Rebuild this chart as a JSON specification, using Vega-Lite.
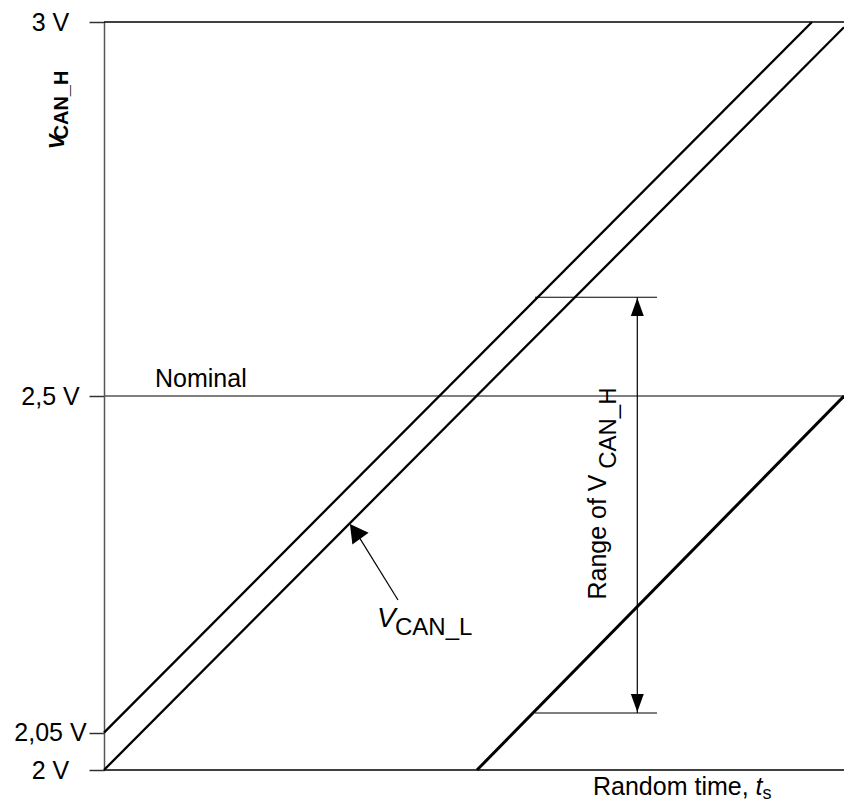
{
  "$schema": "https://vega.github.io/schema/vega-lite/v6.json",
  "width": 740,
  "height": 748,
  "autosize": {"type": "none"},
  "padding": {"left": 104, "top": 22, "right": 0, "bottom": 33},
  "config": {"view": {"stroke": null}, "font": "Liberation Sans"},
  "layer": [
    {
      "data": {"values": [
        {"x": 0, "y": 2.5, "x2": 740, "y2": 2.5}
      ]},
      "mark": {"type": "rule", "color": "#555", "strokeWidth": 1.5},
      "encoding": {
        "x": {"field": "x", "type": "quantitative", "scale": {"domain": [0, 740], "nice": false, "zero": false}, "axis": null},
        "y": {"field": "y", "type": "quantitative", "scale": {"domain": [2, 3], "nice": false, "zero": false},
              "axis": {"title": null, "values": [2, 2.05, 2.5, 3], "grid": false, "domainColor": "#555", "domainWidth": 1.5,
                       "tickColor": "#333", "tickSize": 15, "tickWidth": 1.5, "labelFontSize": 25, "labelColor": "#000",
                       "labelAlign": "center", "labelPadding": 39, "labelFont": "Liberation Sans",
                       "labelExpr": "replace(format(datum.value, '.2~f'), '.', ',') + ' V'"}},
        "x2": {"field": "x2"},
        "y2": {"field": "y2"}
      }
    },
    {
      "data": {"values": [
        {"x": 0, "y": 3, "x2": 740, "y2": 3},
        {"x": 0, "y": 2, "x2": 740, "y2": 2}
      ]},
      "mark": {"type": "rule", "color": "#000", "strokeWidth": 1.5},
      "encoding": {
        "x": {"field": "x", "type": "quantitative"},
        "y": {"field": "y", "type": "quantitative"},
        "x2": {"field": "x2"},
        "y2": {"field": "y2"}
      }
    },
    {
      "data": {"values": [
        {"x": 0, "y": 2.05, "x2": 708, "y2": 3.0},
        {"x": 0, "y": 2.0, "x2": 740, "y2": 2.993}
      ]},
      "mark": {"type": "rule", "color": "#000", "strokeWidth": 2.3},
      "encoding": {
        "x": {"field": "x", "type": "quantitative"},
        "y": {"field": "y", "type": "quantitative"},
        "x2": {"field": "x2"},
        "y2": {"field": "y2"}
      }
    },
    {
      "data": {"values": [
        {"x": 373, "y": 2.0, "x2": 740, "y2": 2.5}
      ]},
      "mark": {"type": "rule", "color": "#000", "strokeWidth": 3},
      "encoding": {
        "x": {"field": "x", "type": "quantitative"},
        "y": {"field": "y", "type": "quantitative"},
        "x2": {"field": "x2"},
        "y2": {"field": "y2"}
      }
    },
    {
      "data": {"values": [
        {"x": 431, "y": 2.632, "x2": 553, "y2": 2.632},
        {"x": 431, "y": 2.0762, "x2": 553, "y2": 2.0762},
        {"x": 533.3, "y": 2.632, "x2": 533.3, "y2": 2.0762},
        {"x": 294, "y": 2.2273, "x2": 252, "y2": 2.318}
      ]},
      "mark": {"type": "rule", "color": "#000", "strokeWidth": 1.2},
      "encoding": {
        "x": {"field": "x", "type": "quantitative"},
        "y": {"field": "y", "type": "quantitative"},
        "x2": {"field": "x2"},
        "y2": {"field": "y2"}
      }
    },
    {
      "data": {"values": [
        {"x": 533.3, "y": 2.619, "angle": 0},
        {"x": 533.3, "y": 2.0896, "angle": 180}
      ]},
      "mark": {"type": "point", "shape": "M0,-1L0.72,1L-0.72,1Z", "size": 324, "filled": true, "color": "#000", "opacity": 1},
      "encoding": {
        "x": {"field": "x", "type": "quantitative"},
        "y": {"field": "y", "type": "quantitative"},
        "angle": {"field": "angle", "type": "quantitative", "scale": null}
      }
    },
    {
      "data": {"values": [
        {"x": 251.2, "y": 2.319, "angle": -36}
      ]},
      "mark": {"type": "point", "shape": "M0,-0.9L1,0.9L-1,0.9Z", "size": 400, "filled": true, "color": "#000", "opacity": 1},
      "encoding": {
        "x": {"field": "x", "type": "quantitative"},
        "y": {"field": "y", "type": "quantitative"},
        "angle": {"field": "angle", "type": "quantitative", "scale": null}
      }
    },
    {
      "data": {"values": [
        {"x": 51, "y": 2.512, "label": "Nominal"},
        {"x": 489, "y": 1.9666, "label": "Random time, "}
      ]},
      "mark": {"type": "text", "align": "left", "baseline": "alphabetic", "fontSize": 25, "color": "#000"},
      "encoding": {
        "x": {"field": "x", "type": "quantitative"},
        "y": {"field": "y", "type": "quantitative"},
        "text": {"field": "label"}
      }
    },
    {
      "data": {"values": [
        {"x": 651.5, "y": 1.9666, "label": "t"}
      ]},
      "mark": {"type": "text", "align": "left", "baseline": "alphabetic", "fontSize": 25, "fontStyle": "italic", "color": "#000"},
      "encoding": {
        "x": {"field": "x", "type": "quantitative"},
        "y": {"field": "y", "type": "quantitative"},
        "text": {"field": "label"}
      }
    },
    {
      "data": {"values": [
        {"x": 658.5, "y": 1.9613, "label": "s"}
      ]},
      "mark": {"type": "text", "align": "left", "baseline": "alphabetic", "fontSize": 18, "color": "#000"},
      "encoding": {
        "x": {"field": "x", "type": "quantitative"},
        "y": {"field": "y", "type": "quantitative"},
        "text": {"field": "label"}
      }
    },
    {
      "data": {"values": [
        {"x": 273, "y": 2.1912, "label": "V"}
      ]},
      "mark": {"type": "text", "align": "left", "baseline": "alphabetic", "fontSize": 28, "fontStyle": "italic", "color": "#000"},
      "encoding": {
        "x": {"field": "x", "type": "quantitative"},
        "y": {"field": "y", "type": "quantitative"},
        "text": {"field": "label"}
      }
    },
    {
      "data": {"values": [
        {"x": 291, "y": 2.1805, "label": "CAN_L"}
      ]},
      "mark": {"type": "text", "align": "left", "baseline": "alphabetic", "fontSize": 24, "color": "#000"},
      "encoding": {
        "x": {"field": "x", "type": "quantitative"},
        "y": {"field": "y", "type": "quantitative"},
        "text": {"field": "label"}
      }
    },
    {
      "data": {"values": [
        {"x": 494, "y": 2.3115, "label": "Range of V"}
      ]},
      "mark": {"type": "text", "align": "center", "baseline": "middle", "angle": 270, "fontSize": 25, "color": "#000"},
      "encoding": {
        "x": {"field": "x", "type": "quantitative"},
        "y": {"field": "y", "type": "quantitative"},
        "text": {"field": "label"}
      }
    },
    {
      "data": {"values": [
        {"x": 504.5, "y": 2.457, "label": "CAN_H"}
      ]},
      "mark": {"type": "text", "align": "center", "baseline": "middle", "angle": 270, "fontSize": 24, "color": "#000"},
      "encoding": {
        "x": {"field": "x", "type": "quantitative"},
        "y": {"field": "y", "type": "quantitative"},
        "text": {"field": "label"}
      }
    },
    {
      "data": {"values": [
        {"x": -47, "y": 2.8396, "label": "V"}
      ]},
      "mark": {"type": "text", "align": "center", "baseline": "middle", "angle": 270, "fontSize": 22, "fontStyle": "italic", "fontWeight": "bold", "color": "#000"},
      "encoding": {
        "x": {"field": "x", "type": "quantitative"},
        "y": {"field": "y", "type": "quantitative"},
        "text": {"field": "label"}
      }
    },
    {
      "data": {"values": [
        {"x": -42, "y": 2.889, "label": "CAN_H"}
      ]},
      "mark": {"type": "text", "align": "center", "baseline": "middle", "angle": 270, "fontSize": 20, "fontWeight": "bold", "color": "#000"},
      "encoding": {
        "x": {"field": "x", "type": "quantitative"},
        "y": {"field": "y", "type": "quantitative"},
        "text": {"field": "label"}
      }
    }
  ]
}
